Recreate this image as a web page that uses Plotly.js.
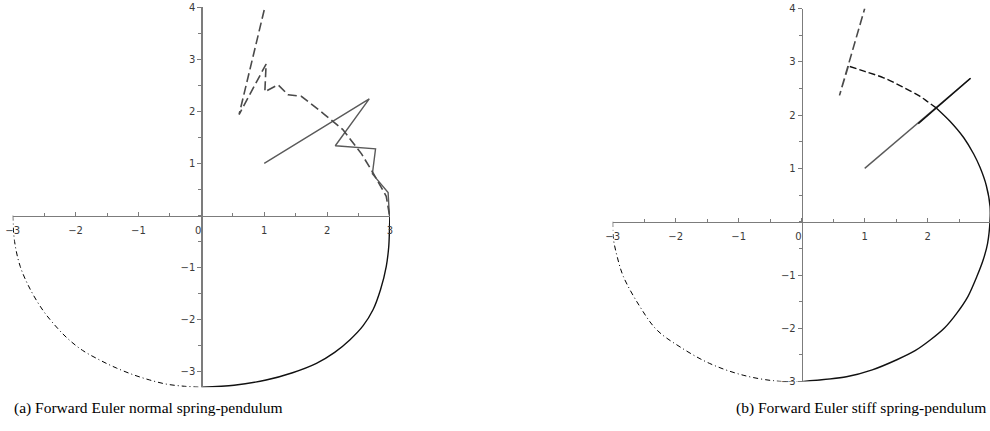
<!DOCTYPE html>
<html>
<head>
<meta charset="utf-8">
<script src="https://cdn.plot.ly/plotly-3.0.1.min.js"></script>
<style>
  html, body { margin: 0; padding: 0; background: #fff; overflow: hidden; }
  #plot { width: 992px; height: 431px; }
</style>
</head>
<body>
<div id="plot"></div>
<script>
// ---------- (a) normal spring-pendulum ----------
const aLowerLeftX  = [-3.00, -2.97, -2.88, -2.72, -2.52, -2.32, -2.12, -1.89, -1.61, -1.35, -1.08, -0.82, -0.55, -0.27, 0.00];
const aLowerLeftY  = [ 0.00, -0.50, -0.98, -1.42, -1.82, -2.12, -2.37, -2.59, -2.78, -2.93, -3.06, -3.16, -3.24, -3.28, -3.30];
const aLowerRightX = [0.00, 0.52, 1.03, 1.45, 1.83, 2.12, 2.36, 2.57, 2.73, 2.85, 2.94, 2.98, 2.99, 3.00];
const aLowerRightY = [-3.30, -3.26, -3.16, -3.02, -2.84, -2.63, -2.39, -2.12, -1.81, -1.42, -0.98, -0.60, -0.34, 0.08];
const aEulerX = [1.00, 2.67, 2.13, 2.77, 2.72, 2.97, 2.99];
const aEulerY = [1.00, 2.24, 1.34, 1.28, 0.80, 0.44, 0.00];
const aStiffX = [2.99, 2.94, 2.73, 2.55, 2.25, 1.95, 1.59, 1.38, 1.22, 1.01, 1.03, 0.60, 1.01];
const aStiffY = [0.02, 0.37, 0.82, 1.18, 1.65, 1.95, 2.29, 2.32, 2.51, 2.38, 2.91, 1.94, 4.00];

// ---------- (b) stiff spring-pendulum ----------
const bLowerLeftX  = [-3.00, -2.99, -2.93, -2.83, -2.57, -2.30, -1.93, -1.46, -0.93, -0.40, 0.00];
const bLowerLeftY  = [ 0.00, -0.31, -0.65, -1.03, -1.59, -2.03, -2.35, -2.66, -2.88, -2.99, -3.00];
const bArcX = [0.00, 0.71, 1.12, 1.51, 1.80, 2.04, 2.27, 2.46, 2.64, 2.78, 2.88, 2.95, 2.99, 2.99, 2.93, 2.83, 2.73, 2.57, 2.35, 2.14];
const bArcY = [-3.00, -2.91, -2.78, -2.59, -2.42, -2.22, -1.99, -1.72, -1.40, -1.03, -0.72, -0.41, 0.03, 0.28, 0.68, 1.02, 1.27, 1.58, 1.89, 2.13];
const bEulerX = [1.00, 2.68];
const bEulerY = [1.00, 2.69];
const bEulerDarkX = [1.85, 2.68];
const bEulerDarkY = [1.84, 2.69];
const bStiffArcX = [2.14, 2.00, 1.88, 1.60, 1.30, 1.00, 0.74];
const bStiffArcY = [2.13, 2.25, 2.35, 2.53, 2.70, 2.82, 2.92];
const bStiffTailX = [0.74, 0.60, 1.00];
const bStiffTailY = [2.92, 2.37, 4.00];

// ---------- axes ----------
const xRange  = [-3, 3];
const aYRange = [-3.3, 4];
const bYRange = [-3, 4];
const xTickVals = [-3, -2, -1, 0, 1, 2, 3];
const xTickText = ['\u22123', '\u22122', '\u22121', '0\u00a0\u00a0', '1', '2', '3'];
const yTickVals = [-3, -2, -1, 1, 2, 3, 4];
const yTickText = ['\u22123', '\u22122', '\u22121', '1', '2', '3', '4'];
const captions = ['(a) Forward Euler normal spring-pendulum', '(b) Forward Euler stiff spring-pendulum'];

const W = 992, H = 431;
// plot boxes in pixels: [left, right, top, bottom]
const boxA = [12.7, 390.0, 7.3, 387.3];
const boxB = [612.7, 990.7, 8.5, 381.6];

function xDom(b) { return [b[0] / W, b[1] / W]; }
function yDom(b) { return [(H - b[3]) / H, (H - b[2]) / H]; }
function zeroAt(dom, rng) { return dom[0] + (dom[1] - dom[0]) * (0 - rng[0]) / (rng[1] - rng[0]); }

const axisColor = '#7c7c7c';
const tickFont = { family: 'DejaVu Sans, sans-serif', size: 10, color: '#3a3a3a' };

function xAxis(box, yr) {
  return {
    domain: xDom(box), range: xRange, anchor: 'free', position: zeroAt(yDom(box), yr),
    showline: true, linecolor: axisColor, linewidth: 1.5, showgrid: false, zeroline: false,
    tickmode: 'array', tickvals: xTickVals, ticktext: xTickText,
    ticks: 'inside', ticklen: 4, tickwidth: 1, tickcolor: axisColor, ticklabelstandoff: 5,
    minor: { dtick: 0.5, tick0: 0, ticks: 'inside', ticklen: 3, tickcolor: axisColor, showgrid: false },
    tickfont: tickFont, fixedrange: true
  };
}
function yAxis(box, yr) {
  return {
    domain: yDom(box), range: yr, anchor: 'free', position: zeroAt(xDom(box), xRange),
    showline: true, linecolor: axisColor, linewidth: 1.5, showgrid: false, zeroline: false,
    tickmode: 'array', tickvals: yTickVals, ticktext: yTickText,
    ticks: 'outside', ticklen: 4, tickwidth: 1, tickcolor: axisColor,
    minor: { dtick: 0.5, tick0: 0, ticks: 'outside', ticklen: 3, tickcolor: axisColor, showgrid: false },
    tickfont: tickFont, fixedrange: true
  };
}

const dashDot = { color: '#000', width: 1, dash: '5px,3px,1px,3px', shape: 'spline', smoothing: 1 };
const solidBlack = { color: '#111', width: 1.4, shape: 'spline', smoothing: 0.8 };
const solidBlackStraight = { color: '#111', width: 1.4 };
const solidGray = { color: '#5a5a5a', width: 1.4 };
const longDash = { color: '#4a4a4a', width: 1.6, dash: '9px,4px' };
const arcDash = { color: '#111', width: 1.4, dash: '7px,3px', shape: 'spline', smoothing: 1 };

function tr(x, y, line, xa, ya) {
  return { x: x, y: y, mode: 'lines', line: line, xaxis: xa, yaxis: ya, hoverinfo: 'skip', showlegend: false };
}

const traces = [
  tr(aLowerLeftX, aLowerLeftY, dashDot, 'x', 'y'),
  tr(aLowerRightX, aLowerRightY, solidBlack, 'x', 'y'),
  tr(aEulerX, aEulerY, solidGray, 'x', 'y'),
  tr(aStiffX, aStiffY, longDash, 'x', 'y'),
  tr(bLowerLeftX, bLowerLeftY, dashDot, 'x2', 'y2'),
  tr(bArcX, bArcY, solidBlack, 'x2', 'y2'),
  tr(bEulerX, bEulerY, solidGray, 'x2', 'y2'),
  tr(bEulerDarkX, bEulerDarkY, solidBlackStraight, 'x2', 'y2'),
  tr(bStiffArcX, bStiffArcY, arcDash, 'x2', 'y2'),
  tr(bStiffTailX, bStiffTailY, longDash, 'x2', 'y2')
];

const capFont = { family: 'Liberation Serif, Times New Roman, serif', size: 15.5, color: '#000' };
const layout = {
  width: W, height: H,
  margin: { l: 0, r: 0, t: 0, b: 0, pad: 0 },
  paper_bgcolor: '#fff', plot_bgcolor: 'rgba(0,0,0,0)',
  showlegend: false,
  xaxis: xAxis(boxA, aYRange), yaxis: yAxis(boxA, aYRange),
  xaxis2: xAxis(boxB, bYRange), yaxis2: yAxis(boxB, bYRange),
  annotations: [
    { text: captions[0], xref: 'paper', yref: 'paper', x: 148 / W, y: (H - 408) / H,
      xanchor: 'center', yanchor: 'middle', showarrow: false, font: capFont },
    { text: captions[1], xref: 'paper', yref: 'paper', x: 861 / W, y: (H - 408) / H,
      xanchor: 'center', yanchor: 'middle', showarrow: false, font: capFont }
  ]
};

Plotly.newPlot('plot', traces, layout, { staticPlot: true, displayModeBar: false });
</script>
</body>
</html>
